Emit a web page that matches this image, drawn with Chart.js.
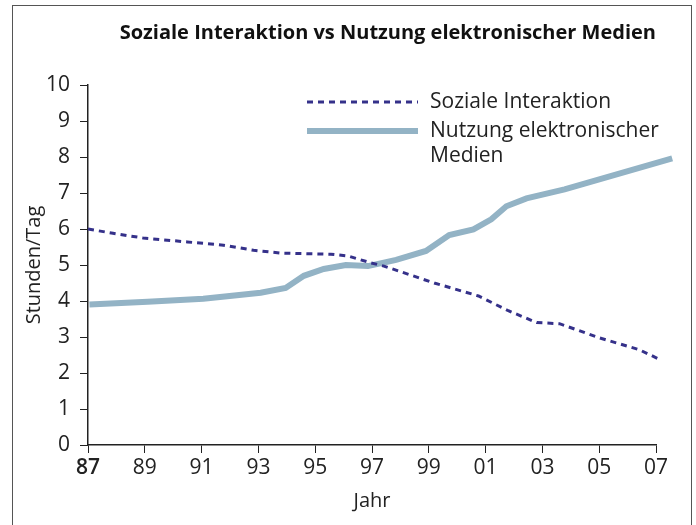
<!DOCTYPE html>
<html>
<head>
<meta charset="utf-8">
<script src="https://cdn.jsdelivr.net/npm/chart.js@4.4.0/dist/chart.umd.min.js"></script>
<style>
  body { margin: 0; background: #fff; }
  #wrap { position: relative; width: 696px; height: 525px; overflow: hidden; }
  #frame { position: absolute; left: 12px; top: 5px; width: 678px; height: 540px; border: 1.5px solid #555; }
  #chart { position: absolute; left: 0; top: 0; }
</style>
</head>
<body>
<div id="wrap">
  <div id="frame"></div>
  <canvas id="chart" width="696" height="525"></canvas>
</div>
<script>
var tickJahre = [1987, 1989, 1991, 1993, 1995, 1997, 1999, 2001, 2003, 2005, 2007];

var interaktionJahre = [1987.0, 1987.88, 1988.94, 1990.5, 1991.77, 1992.83, 1993.78, 1995.55, 1996.15, 1996.96, 1997.42, 1999.19, 2000.75, 2001.8, 2002.8, 2003.6, 2004.99, 2006.4, 2007.2];
var interaktionWerte = [6.0, 5.88, 5.75, 5.64, 5.55, 5.41, 5.33, 5.30, 5.25, 5.06, 4.97, 4.50, 4.14, 3.73, 3.40, 3.37, 2.98, 2.65, 2.35];

var medienJahre = [1987.05, 1989.1, 1991.06, 1993.08, 1993.96, 1994.6, 1995.3, 1996.08, 1996.86, 1997.85, 1998.9, 1999.72, 2000.57, 2001.2, 2001.73, 2002.44, 2003.78, 2007.57];
var medienWerte = [3.9, 3.98, 4.06, 4.23, 4.36, 4.70, 4.89, 5.0, 4.97, 5.14, 5.39, 5.83, 5.99, 6.27, 6.63, 6.85, 7.10, 7.96];

function toPoints(xs, ys) {
    return xs.map(function (x, i) { return { x: x, y: ys[i] }; });
}

var schrift = "'Open Sans', 'Noto Sans', sans-serif";

// legend drawn inside the plot, like in the original
var legendePlugin = {
    id: 'legende',
    afterDraw: function (chart) {
        var ctx = chart.ctx;
        var rows = [
            { ds: chart.data.datasets[0], y: 102, lines: ['Soziale Interaktion'] },
            { ds: chart.data.datasets[1], y: 131, lines: ['Nutzung elektronischer', 'Medien'] }
        ];
        ctx.save();
        rows.forEach(function (r) {
            ctx.beginPath();
            ctx.strokeStyle = r.ds.borderColor;
            ctx.lineWidth = r.ds.borderWidth;
            ctx.setLineDash(r.ds.borderDash || []);
            ctx.moveTo(307, r.y);
            ctx.lineTo(418, r.y);
            ctx.stroke();
            ctx.setLineDash([]);
            ctx.fillStyle = '#222';
            ctx.font = '21px ' + schrift;
            ctx.textBaseline = 'middle';
            r.lines.forEach(function (t, i) {
                ctx.fillText(t, 430, r.y + i * 25);
            });
        });
        ctx.restore();
    }
};

new Chart(document.getElementById('chart'), {
    type: 'line',
    data: {
        datasets: [{
            label: 'Soziale Interaktion',
            data: toPoints(interaktionJahre, interaktionWerte),
            borderColor: '#35318a',
            borderWidth: 3,
            borderDash: [6, 5],
            pointRadius: 0,
            tension: 0,
            clip: false
        }, {
            label: 'Nutzung elektronischer Medien',
            data: toPoints(medienJahre, medienWerte),
            borderColor: '#93b3c5',
            borderWidth: 6,
            pointRadius: 0,
            tension: 0,
            clip: false
        }]
    },
    options: {
        responsive: false,
        animation: false,
        layout: { padding: { left: 18, right: 40, top: 0, bottom: 8 } },
        plugins: {
            legend: { display: false },
            tooltip: { enabled: false },
            title: {
                display: true,
                text: 'Soziale Interaktion vs Nutzung elektronischer Medien',
                color: '#111',
                align: 'end',
                fullSize: false,
                font: { family: schrift, size: 20, weight: 'bold' },
                padding: { top: 21, bottom: 40 }
            }
        },
        scales: {
            x: {
                type: 'linear',
                min: 1987,
                max: 2007,
                afterBuildTicks: function (scale) {
                    scale.ticks = tickJahre.map(function (v) { return { value: v }; });
                },
                afterFit: function (scale) { scale.height = 72; },
                grid: { display: true, drawOnChartArea: false, tickLength: 8, color: '#222' },
                border: { color: '#222', width: 1.5 },
                ticks: {
                    color: '#222',
                    padding: 2,
                    maxRotation: 0,
                    autoSkip: false,
                    font: function (c) {
                        return { family: schrift, size: 21, weight: c.index === 0 ? '600' : 'normal' };
                    },
                    callback: function (v) { return String(v % 100).padStart(2, '0'); }
                },
                title: {
                    display: true,
                    text: 'Jahr',
                    color: '#222',
                    font: { family: schrift, size: 20 },
                    padding: { top: 4 }
                }
            },
            y: {
                min: 0,
                max: 10,
                afterFit: function (scale) { scale.width = 70; },
                grid: { display: true, drawOnChartArea: false, tickLength: 8, color: '#222' },
                border: { color: '#222', width: 1.5 },
                ticks: {
                    stepSize: 1,
                    color: '#222',
                    padding: 10,
                    font: { family: schrift, size: 21 }
                },
                title: {
                    display: true,
                    text: 'Stunden/Tag',
                    color: '#222',
                    font: { family: schrift, size: 20 },
                    padding: { bottom: 4 }
                }
            }
        }
    },
    plugins: [legendePlugin]
});
</script>
</body>
</html>
